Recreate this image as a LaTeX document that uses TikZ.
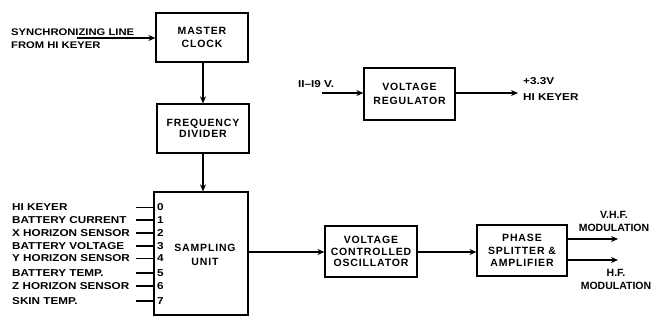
\documentclass[tikz,border=0pt]{standalone}
\usepackage{fontspec}
\setmainfont{Liberation Sans}[LetterSpace=8]
\newfontfamily\lblfont{Liberation Sans}[FakeStretch=1.17]
\newfontfamily\rfont{Liberation Sans}
\usetikzlibrary{arrows.meta}
\begin{document}
\begin{tikzpicture}[x=1pt,y=-1pt,
  blk/.style={draw,line width=1.2pt,inner sep=0pt,align=center,font=\fontsize{10.5}{12}\selectfont\bfseries},
  lbl/.style={inner sep=0pt,font=\lblfont\fontsize{10}{13.5}\selectfont\bfseries},
  rlbl/.style={inner sep=0pt,font=\rfont\fontsize{10.5}{13}\selectfont\bfseries},
  arr/.style={line width=1.1pt,-{Stealth[length=7pt,width=6pt]}},
  ln/.style={line width=1.1pt}]
\useasboundingbox (0,0) rectangle (659,322);
% blocks
\node[blk,minimum width=92,minimum height=49,font=\fontsize{10.5}{13}\selectfont\bfseries] (clock) at (202,37.5) {MASTER\\CLOCK};
\node[blk,minimum width=92,minimum height=49,font=\fontsize{10.5}{11.5}\selectfont\bfseries] (div) at (203,128.5) {FREQUENCY\\DIVIDER};
\node[blk,minimum width=94,minimum height=123] (samp) at (201,253.5) {};
\node[inner sep=0pt,align=center,font=\fontsize{10.5}{14}\selectfont\bfseries] (samptxt) at (205,255) {SAMPLING\\UNIT};
\node[blk,minimum width=91,minimum height=52,font=\fontsize{10.5}{14}\selectfont\bfseries] (reg) at (409.5,94) {VOLTAGE\\REGULATOR};
\node[blk,minimum width=92,minimum height=51,font=\fontsize{10.5}{11.5}\selectfont\bfseries] (vco) at (371,251.5) {VOLTAGE\\CONTROLLED\\OSCILLATOR};
\node[blk,minimum width=90,minimum height=51,font=\fontsize{10.5}{12.5}\selectfont\bfseries] (ph) at (522,250.5) {PHASE\\SPLITTER \&\\AMPLIFIER};
% sync input
\node[lbl,align=left,anchor=north west,font=\lblfont\fontsize{9.6}{13}\selectfont\bfseries] (sync) at (11,28.5) {SYNCHRONIZING LINE\\FROM HI KEYER};
\coordinate (syncs) at (77,38);
\draw[arr] (syncs) -- (syncs -| clock.west);
\draw[arr] (clock.south -| div.north) -- (div.north);
\draw[arr] (div.south) -- (div.south |- samp.north);
% regulator
\node[lbl,anchor=south west] (vin) at (298,88) {II–I9 V.};
\coordinate (vins) at (322,93);
\draw[arr] (vins) -- (vins -| reg.west);
\coordinate (vout) at (518,93);
\draw[arr] (reg.east |- vout) -- (vout);
\node[lbl,align=left,anchor=north west,font=\lblfont\fontsize{10}{16}\selectfont\bfseries] (vo) at (523,77.5) {+3.3V\\HI KEYER};
% chain
\draw[arr] (samp.east |- 0,252) -- (vco.west |- 0,252);
\draw[arr] (vco.east |- 0,252) -- (ph.west |- 0,252);
\coordinate (vhf) at (618,239);
\coordinate (hf) at (618,260);
\draw[arr] (ph.east |- vhf) -- (vhf);
\draw[arr] (ph.east |- hf) -- (hf);
\node[rlbl,align=center] (vhft) at (614,221) {V.H.F.\\MODULATION};
\node[rlbl,align=center] (hft) at (616,279) {H.F.\\MODULATION};
% inputs
\foreach \i/\t/\y in {0/HI KEYER/207.5,1/BATTERY CURRENT/220,2/X HORIZON SENSOR/233,3/BATTERY VOLTAGE/246,4/Y HORIZON SENSOR/258.5,5/BATTERY TEMP./273,6/Z HORIZON SENSOR/286,7/SKIN TEMP./301}{
  \node[lbl,anchor=west] (in\i) at (12,\y) {\t};
  \coordinate (s\i) at (136,\y);
  \draw[ln] (s\i) -- (s\i -| samp.west);
  \node[lbl,anchor=west] (n\i) at (157,\y) {\i};
}
\end{tikzpicture}
\end{document}
